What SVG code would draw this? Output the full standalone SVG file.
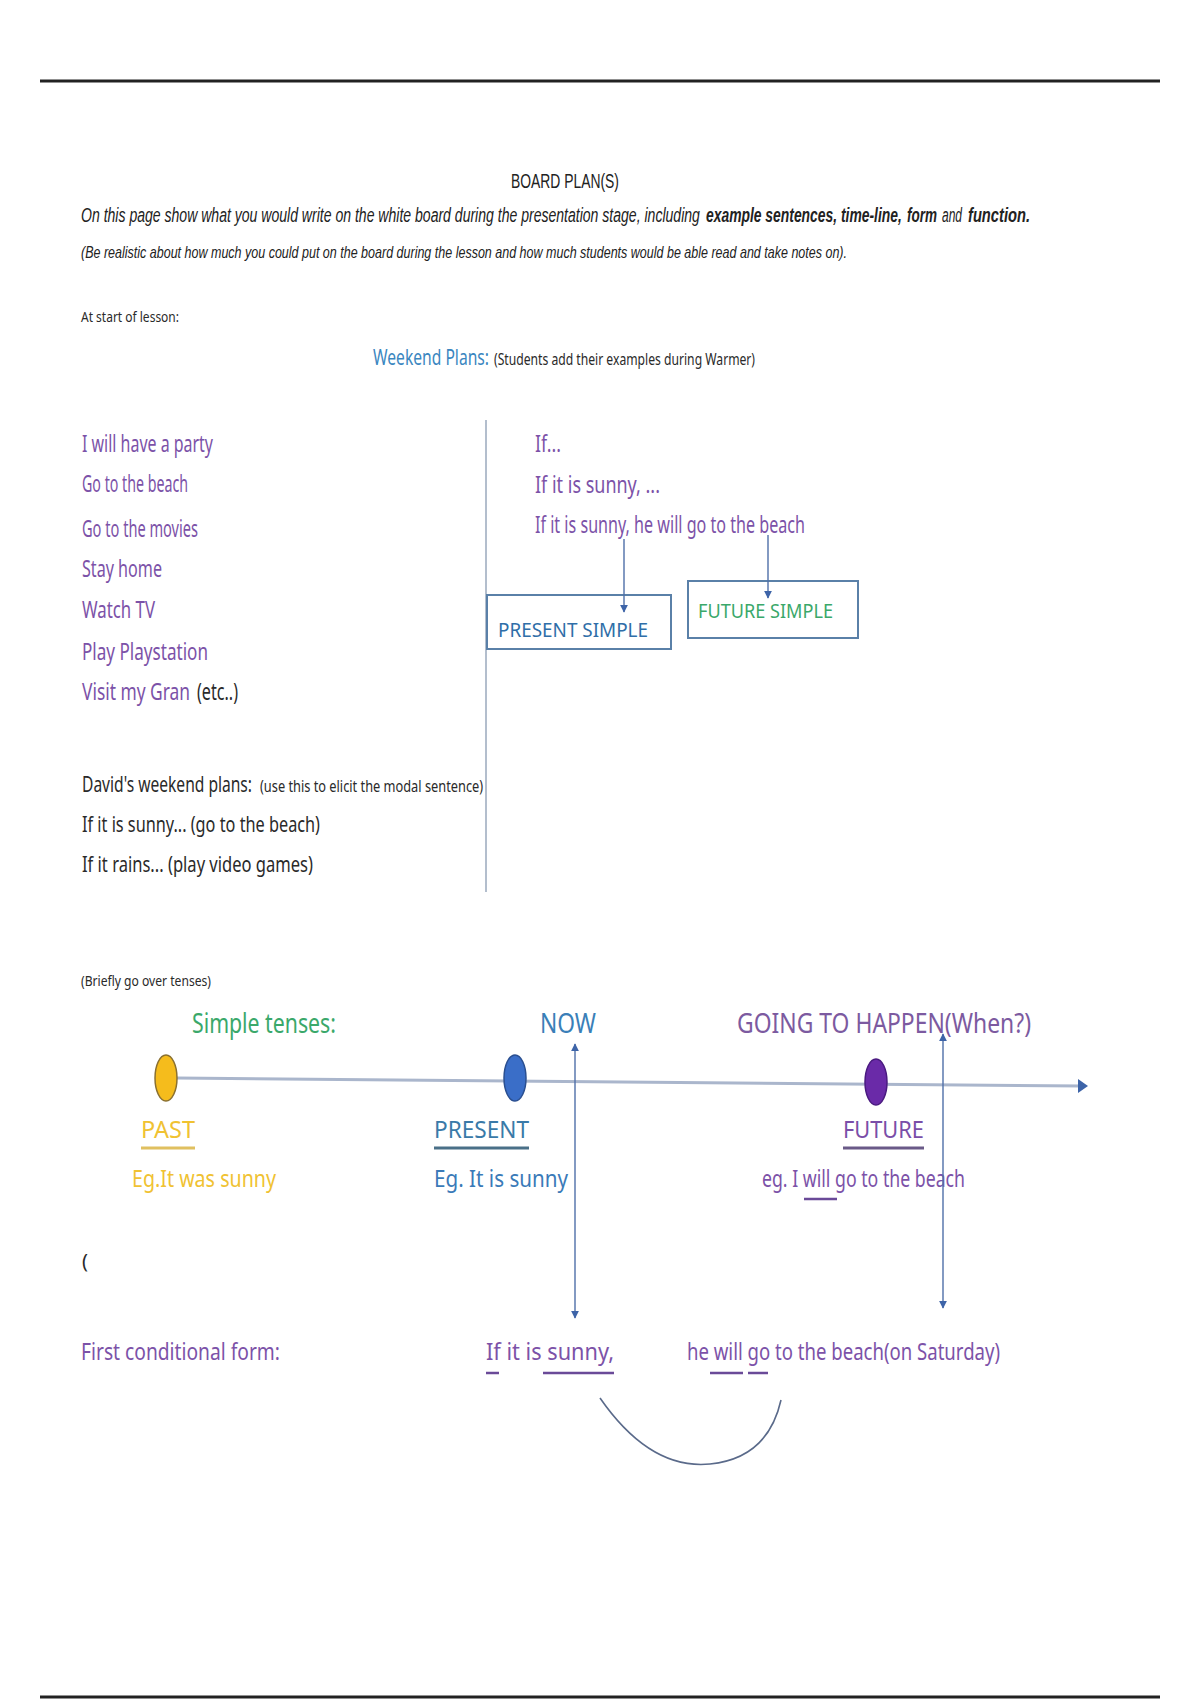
<svg xmlns="http://www.w3.org/2000/svg" width="1200" height="1700" viewBox="0 0 1200 1700">
<style>
.hdr{font-family:"Liberation Sans",Arial,sans-serif;fill:#222}
.hw{font-family:"Noto Sans","DejaVu Sans",sans-serif}
.pur{fill:#7c52a8}
.blk{fill:#2a2a2a}
.blu{fill:#3a86c0}
.grn{fill:#3aa86a}
.yel{fill:#f0c232}
.box{fill:#fff;stroke:#5a80a8;stroke-width:2}
.conn{stroke:#4f6fa8;stroke-width:1.4;fill:none}
.b{font-weight:bold}
</style>
<defs>
<marker id="ah" viewBox="0 0 10 10" refX="9" refY="5" markerWidth="8" markerHeight="10" orient="auto" markerUnits="userSpaceOnUse">
<path d="M0,0 L10,5 L0,10 z" fill="#3d64a8"/>
</marker>
</defs>
<rect width="1200" height="1700" fill="#fff"/>
<line x1="40" y1="81" x2="1160" y2="81" stroke="#222" stroke-width="3"/>
<line x1="40" y1="1697" x2="1160" y2="1697" stroke="#222" stroke-width="3"/>

<g id="header">
<text class="hdr" x="511" y="188" font-size="20" textLength="108" lengthAdjust="spacingAndGlyphs">BOARD PLAN(S)</text>
<g transform="translate(0,222) scale(0.64,1)">
<text class="hdr" y="0" font-size="20" font-style="italic"><tspan x="126.6" textLength="967" lengthAdjust="spacingAndGlyphs">On this page show what you would write on the white board during the presentation stage, including</tspan><tspan class="b" x="1103.1" textLength="306" lengthAdjust="spacingAndGlyphs">example sentences, time-line,</tspan><tspan class="b" x="1417.2" textLength="46.9" lengthAdjust="spacingAndGlyphs">form</tspan><tspan x="1471.9" textLength="31.3" lengthAdjust="spacingAndGlyphs">and</tspan><tspan class="b" x="1512.5" textLength="96.9" lengthAdjust="spacingAndGlyphs">function.</tspan></text>
</g>
<text class="hdr" x="81" y="258" font-size="17" font-style="italic" textLength="766" lengthAdjust="spacingAndGlyphs">(Be realistic about how much you could put on the board during the lesson and how much students would be able read and take notes on).</text>
</g>

<g id="start-label">
<text class="hw blk" x="81" y="322" font-size="15" textLength="98" lengthAdjust="spacingAndGlyphs">At start of lesson:</text>
</g>

<g id="weekend-title">
<g transform="translate(0,365) scale(0.7,1)">
<text class="hw" y="0"><tspan class="blu" x="532.9" font-size="22" textLength="165.7" lengthAdjust="spacingAndGlyphs">Weekend Plans:</tspan><tspan class="blk" x="705.7" font-size="16" textLength="372.9" lengthAdjust="spacingAndGlyphs">(Students add their examples during Warmer)</tspan></text>
</g>
</g>

<g id="plans-list" class="hw pur" font-size="23">
<text x="82" y="452" textLength="131" lengthAdjust="spacingAndGlyphs">I will have a party</text>
<text x="82" y="492" textLength="106" lengthAdjust="spacingAndGlyphs">Go to the beach</text>
<text x="82" y="537" textLength="116" lengthAdjust="spacingAndGlyphs">Go to the movies</text>
<text x="82" y="577" textLength="80" lengthAdjust="spacingAndGlyphs">Stay home</text>
<text x="82" y="618" textLength="73" lengthAdjust="spacingAndGlyphs">Watch TV</text>
<text x="82" y="660" textLength="126" lengthAdjust="spacingAndGlyphs">Play Playstation</text>
<g transform="translate(0,700) scale(0.65,1)">
<text y="0"><tspan x="126.2" textLength="166.2" lengthAdjust="spacingAndGlyphs">Visit my Gran</tspan><tspan class="blk" x="303.1" textLength="63.1" lengthAdjust="spacingAndGlyphs">(etc..)</tspan></text>
</g>
</g>

<g id="divider">
<line x1="486" y1="420" x2="486" y2="892" stroke="#9aa8bc" stroke-width="1.5"/>
</g>

<g id="if-sentences" class="hw pur" font-size="23">
<text x="535" y="452" textLength="26" lengthAdjust="spacingAndGlyphs">If...</text>
<text x="535" y="493" textLength="125" lengthAdjust="spacingAndGlyphs">If it is sunny, ...</text>
<text x="535" y="533" textLength="270" lengthAdjust="spacingAndGlyphs">If it is sunny, he will go to the beach</text>
</g>

<g id="present-simple">
<rect class="box" x="487" y="595" width="184" height="54"/>
<text class="hw" x="498" y="637" font-size="20" fill="#2f6ea8" textLength="150" lengthAdjust="spacingAndGlyphs">PRESENT SIMPLE</text>
</g>

<g id="future-simple">
<rect class="box" x="688" y="581" width="170" height="57"/>
<text class="hw grn" x="698" y="618" font-size="20" textLength="135" lengthAdjust="spacingAndGlyphs">FUTURE SIMPLE</text>
</g>

<g id="david">
<g transform="translate(0,792) scale(0.68,1)">
<text class="hw blk" y="0"><tspan x="120.6" font-size="21" textLength="250" lengthAdjust="spacingAndGlyphs">David's weekend plans:</tspan><tspan x="382.4" font-size="17" textLength="328" lengthAdjust="spacingAndGlyphs">(use this to elicit the modal sentence)</tspan></text>
</g>
<text class="hw blk" x="82" y="832" font-size="22" textLength="238" lengthAdjust="spacingAndGlyphs">If it is sunny... (go to the beach)</text>
<text class="hw blk" x="82" y="872" font-size="22" textLength="231" lengthAdjust="spacingAndGlyphs">If it rains... (play video games)</text>
</g>

<g id="briefly">
<text class="hw blk" x="81" y="986" font-size="14" textLength="130" lengthAdjust="spacingAndGlyphs">(Briefly go over tenses)</text>
</g>

<g id="timeline-labels">
<text class="hw grn" x="192" y="1033" font-size="28" textLength="144" lengthAdjust="spacingAndGlyphs">Simple tenses:</text>
<text class="hw" x="540" y="1033" font-size="27" fill="#3a7fb8" textLength="56" lengthAdjust="spacingAndGlyphs">NOW</text>
<text class="hw" x="737" y="1033" font-size="27" fill="#7c5aa0" textLength="294" lengthAdjust="spacingAndGlyphs">GOING TO HAPPEN(When?)</text>
</g>

<g id="timeline">
<line x1="177" y1="1078" x2="1082" y2="1086" stroke="#aab6cc" stroke-width="3"/>
<path d="M1078,1079 L1088,1086 L1078,1093 z" fill="#3d64a8"/>
</g>

<g id="past">
<ellipse cx="166" cy="1078" rx="11" ry="23" fill="#f5bc1c" stroke="#8a7030" stroke-width="1.5"/>
<text class="hw yel" x="141" y="1138" font-size="24" textLength="54" lengthAdjust="spacingAndGlyphs">PAST</text>
<line x1="141" y1="1148" x2="195" y2="1148" stroke="#e0c060" stroke-width="3"/>
<text class="hw yel" x="132" y="1187" font-size="24" textLength="144" lengthAdjust="spacingAndGlyphs">Eg.It was sunny</text>
</g>

<g id="present">
<ellipse cx="515" cy="1078" rx="11" ry="23" fill="#3a6ec8" stroke="#2a4f90" stroke-width="1.5"/>
<text class="hw" x="434" y="1138" font-size="24" fill="#3a7aa8" textLength="95" lengthAdjust="spacingAndGlyphs">PRESENT</text>
<line x1="434" y1="1148" x2="529" y2="1148" stroke="#4a7088" stroke-width="3"/>
<text class="hw" x="434" y="1187" font-size="24" fill="#3a7ab8" textLength="134" lengthAdjust="spacingAndGlyphs">Eg. It is sunny</text>
</g>

<g id="future">
<ellipse cx="876" cy="1082" rx="11" ry="23" fill="#6a2aa8" stroke="#4a1a80" stroke-width="1.5"/>
<text class="hw" x="843" y="1138" font-size="24" fill="#7a4ea8" textLength="81" lengthAdjust="spacingAndGlyphs">FUTURE</text>
<line x1="843" y1="1148" x2="924" y2="1148" stroke="#6a5a88" stroke-width="3"/>
<text class="hw pur" x="762" y="1187" font-size="24" textLength="203" lengthAdjust="spacingAndGlyphs">eg. I will go to the beach</text>
<line x1="804" y1="1199" x2="837" y2="1199" stroke="#6a4a98" stroke-width="2.5"/>
</g>

<g id="paren">
<text class="hw blk" x="82" y="1268" font-size="20">(</text>
</g>

<g id="first-conditional" class="hw pur" font-size="24">
<text x="81" y="1360" textLength="199" lengthAdjust="spacingAndGlyphs">First conditional form:</text>
<text x="486" y="1360" textLength="128" lengthAdjust="spacingAndGlyphs">If it is sunny,</text>
<text x="687" y="1360" textLength="313" lengthAdjust="spacingAndGlyphs">he will go to the beach(on Saturday)</text>
<line x1="486" y1="1373" x2="499" y2="1373" stroke="#6a4a98" stroke-width="2.5"/>
<line x1="543" y1="1373" x2="614" y2="1373" stroke="#6a4a98" stroke-width="2.5"/>
<line x1="710" y1="1373" x2="743" y2="1373" stroke="#6a4a98" stroke-width="2.5"/>
<line x1="748" y1="1373" x2="768" y2="1373" stroke="#6a4a98" stroke-width="2.5"/>
</g>

<g id="connectors">
<line class="conn" x1="624" y1="539" x2="624" y2="612" marker-end="url(#ah)"/>
<line class="conn" x1="768" y1="535" x2="768" y2="598" marker-end="url(#ah)"/>
<line class="conn" x1="575" y1="1180" x2="575" y2="1044" marker-end="url(#ah)"/>
<line class="conn" x1="575" y1="1180" x2="575" y2="1318" marker-end="url(#ah)"/>
<line class="conn" x1="943" y1="1170" x2="943" y2="1034" marker-end="url(#ah)"/>
<line class="conn" x1="943" y1="1170" x2="943" y2="1308" marker-end="url(#ah)"/>
<path d="M600,1398 Q650,1470 710,1464 Q768,1458 781,1400" fill="none" stroke="#5a6a8a" stroke-width="1.6"/>
</g>
</svg>
